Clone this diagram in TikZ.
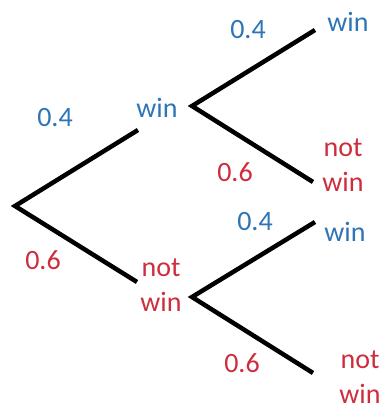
\documentclass[tikz,border=0pt]{standalone}
\usepackage{fontspec}
\setmainfont{Carlito}
\definecolor{winblue}{RGB}{46,117,182}
\definecolor{losered}{RGB}{205,45,60}
\tikzset{
  branch/.style={line width=4.5pt},
  yes/.style={text=winblue, font=\fontsize{28}{35}\selectfont},
  no/.style={text=losered, font=\fontsize{28}{35}\selectfont, align=center},
}
\begin{document}
\begin{tikzpicture}[x=1pt, y=-1pt]
    \useasboundingbox (0,0) rectangle (385,409);
    % First stage
    \coordinate (root) at (15,206);
    \coordinate (upA) at (138,130);
    \coordinate (downA) at (137,282);
    \draw[branch] (upA) -- (root) -- (downA);
    \node[yes] (p1) at (55,118) {0.4};
    \node[no] (q1) at (43,260) {0.6};
    \node[yes] (win) at (157,108) {win};
    \node[no] (lose) at (161,285) {not\\win};
    % Second stage after win
    \coordinate (winV) at (192,106);
    \coordinate (winUp) at (315,30);
    \coordinate (winDown) at (313,182);
    \draw[branch] (winUp) -- (winV) -- (winDown);
    \node[yes] (p2) at (248,30) {0.4};
    \node[no] (q2) at (235,172) {0.6};
    \node[yes] (ww) at (348,22) {win};
    \node[no] (wl) at (343,165) {not\\win};
    % Second stage after not win
    \coordinate (loseV) at (192,297);
    \coordinate (loseUp) at (315,222);
    \coordinate (loseDown) at (313,373);
    \draw[branch] (loseUp) -- (loseV) -- (loseDown);
    \node[yes] (p3) at (255,222) {0.4};
    \node[no] (q3) at (242,363) {0.6};
    \node[yes] (lw) at (345,232) {win};
    \node[no] (ll) at (360,377) {not\\win};
\end{tikzpicture}
\end{document}
